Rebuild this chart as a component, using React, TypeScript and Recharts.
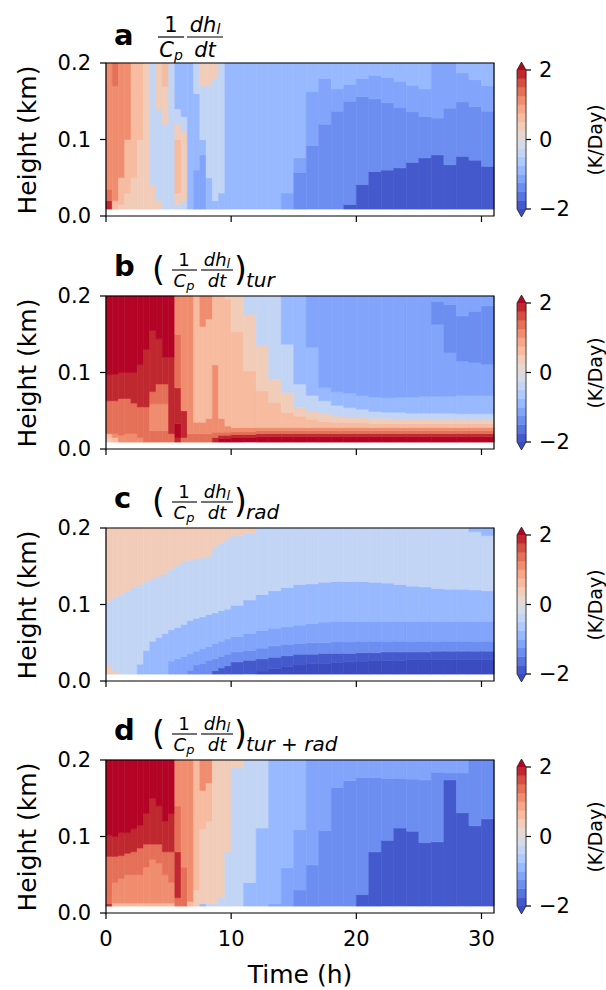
import React from 'react';
import { ComposedChart, XAxis, YAxis, ReferenceArea } from 'recharts';

// time column edges (h)
const TIME_EDGES = [0, 0.5, 1, 1.5, 2, 2.5, 3, 3.5, 4, 4.5, 5, 5.5, 6, 6.5, 7, 7.5, 8, 8.5, 9, 9.5, 10,
  11, 12, 13, 14, 15, 16, 17, 18, 19, 20, 21, 22, 23, 24, 25, 26, 27, 28, 29, 30, 31];
const H_BOTTOM = 0.009; // lowest model level (km)
const X_TICKS = [0, 10, 20, 30];
const Y_TICKS = [0, 0.1, 0.2];
const CB_TICKS = [-2, 0, 2];
const LEVELS = [-2, -1.75, -1.5, -1.25, -1, -0.75, -0.5, -0.25, 0, 0.25, 0.5, 0.75, 1, 1.25, 1.5, 1.75, 2];
// under, 16 bands, over (coolwarm)
const BAND_COLORS = ['#3b4cc0', '#445acc', '#5775e1', '#6c8ef1', '#82a5fb', '#98b9ff', '#aec9fd', '#c2d5f4', '#d5dbe6',
  '#e5d8d1', '#f1ccb9', '#f7bba0', '#f7a687', '#f18d6f', '#e57058', '#d55042', '#c0282f', '#b40426'];

// Each column: flat list of (value K/day, top height km) pairs, from the bottom up
const PANEL_A: number[][] = [
  [1.8, .02, 1.4, .035, 1.0, .2],
  [0.6, .02, 1.0, .17, 1.4, .2],
  [0.35, .015, 0.6, .05, 1.0, .2],
  [0.35, .03, 0.6, .1, 1.0, .2],
  [0.35, .05, 0.6, .2],
  [0.35, .1, 0.6, .2],
  [0.35, .2],
  [0.35, .04, -0.35, .2],
  [0.35, .02, -0.35, .14, 0.35, .2],
  [-0.35, .12, 0.35, .17, 0.6, .2],
  [-0.35, .2],
  [-0.35, .015, 0.35, .03, 0.6, .1, 0.35, .12, -0.35, .14, -0.85, .2],
  [-0.35, .02, 0.35, .11, -0.35, .13, -0.85, .2],
  [-0.85, .2],
  [-1.1, .06, -0.85, .16, -0.35, .2],
  [-1.1, .08, -0.85, .1, -0.35, .17, 0.35, .2],
  [-0.85, .05, -0.35, .17, 0.35, .2],
  [-0.85, .02, -0.35, .18, 0.35, .2],
  [-0.85, .03, -0.35, .2],
  [-0.85, .2],
  [-0.85, .2],
  [-0.85, .2],
  [-0.85, .2],
  [-0.85, .2],
  [-1.1, .03, -0.85, .2],
  [-1.4, .057, -1.1, .076, -0.85, .2],
  [-1.4, .092, -1.1, .163, -0.85, .2],
  [-1.4, .12, -1.1, .18, -0.85, .2],
  [-1.4, .137, -1.1, .166, -0.85, .2],
  [-1.8, .015, -1.4, .15, -1.1, .172, -0.85, .2],
  [-1.8, .041, -1.4, .156, -1.1, .18, -0.85, .2],
  [-1.8, .058, -1.4, .153, -1.1, .184, -0.85, .2],
  [-1.8, .06, -1.4, .148, -1.1, .181, -0.85, .2],
  [-1.8, .063, -1.4, .142, -1.1, .176, -0.85, .2],
  [-1.8, .07, -1.4, .136, -1.1, .171, -0.85, .2],
  [-1.8, .076, -1.4, .13, -1.1, .166, -0.85, .2],
  [-1.8, .08, -1.4, .128, -1.1, .2],
  [-1.8, .067, -1.4, .141, -1.1, .2],
  [-1.8, .078, -1.4, .149, -1.1, .187, -0.85, .2],
  [-1.8, .073, -1.4, .143, -1.1, .178, -0.85, .2],
  [-1.8, .065, -1.4, .137, -1.1, .17, -0.85, .2],
];

const PANEL_B: number[][] = [
  [0.35, .014, 0.6, .02, 1.4, .063, 1.8, .097, 2.2, .2],
  [0.6, .015, 1.0, .02, 1.4, .063, 1.8, .098, 2.2, .2],
  [1.0, .018, 1.4, .066, 1.8, .1, 2.2, .2],
  [1.0, .02, 1.4, .066, 1.8, .1, 2.2, .2],
  [1.0, .02, 1.4, .06, 1.8, .1, 2.2, .2],
  [1.0, .015, 1.4, .055, 1.8, .11, 2.2, .2],
  [1.4, .055, 1.8, .13, 2.2, .2],
  [1.4, .024, 1.0, .059, 1.4, .075, 1.8, .155, 2.2, .2],
  [1.4, .024, 1.0, .059, 1.4, .085, 1.8, .144, 2.2, .2],
  [1.4, .024, 1.0, .059, 1.4, .085, 1.8, .12, 2.2, .2],
  [1.4, .02, 1.8, .12, 2.2, .2],
  [1.8, .015, 2.2, .033, 1.8, .08, 1.4, .15, 1.0, .2],
  [1.4, .015, 1.8, .05, 1.0, .2],
  [1.4, .02, 1.0, .2],
  [1.4, .02, 1.0, .035, 0.6, .2],
  [1.4, .02, 1.0, .035, 0.6, .16, 1.0, .2],
  [1.4, .02, 1.0, .04, 0.6, .17, 1.0, .2],
  [1.8, .015, 1.4, .022, 1.0, .11, 0.6, .2],
  [2.2, .014, 1.8, .018, 1.4, .022, 1.0, .04, 0.6, .2],
  [2.2, .014, 1.8, .018, 1.4, .022, 1.0, .03, 0.6, .196, 0.35, .2],
  [2.2, .015, 1.8, .019, 1.4, .023, 1.0, .028, 0.6, .153, 0.35, .2],
  [2.2, .015, 1.8, .019, 1.4, .023, 1.0, .028, 0.6, .102, 0.35, .176, -0.35, .2],
  [2.2, .016, 1.8, .02, 1.4, .024, 1.0, .028, 0.6, .076, 0.35, .135, -0.35, .2],
  [2.2, .016, 1.8, .02, 1.4, .024, 1.0, .028, 0.6, .061, 0.35, .091, -0.35, .2],
  [2.2, .016, 1.8, .02, 1.4, .024, 1.0, .028, 0.6, .048, 0.35, .074, -0.35, .137, -0.85, .2],
  [2.2, .016, 1.8, .02, 1.4, .024, 1.0, .028, 0.6, .043, 0.35, .054, -0.35, .085, -0.85, .2],
  [2.2, .016, 1.8, .02, 1.4, .024, 1.0, .028, 0.6, .039, 0.35, .049, -0.35, .07, -0.85, .133, -1.1, .2],
  [2.2, .016, 1.8, .02, 1.4, .024, 1.0, .028, 0.6, .036, 0.35, .046, -0.35, .063, -0.85, .08, -1.1, .2],
  [2.2, .016, 1.8, .02, 1.4, .024, 1.0, .028, 0.6, .035, 0.35, .043, -0.35, .057, -0.85, .075, -1.1, .2],
  [2.2, .016, 1.8, .02, 1.4, .024, 1.0, .028, 0.6, .034, 0.35, .042, -0.35, .054, -0.85, .073, -1.1, .2],
  [2.2, .016, 1.8, .02, 1.4, .024, 1.0, .028, 0.6, .034, 0.35, .041, -0.35, .052, -0.85, .07, -1.1, .2],
  [2.2, .016, 1.8, .02, 1.4, .024, 1.0, .028, 0.6, .033, 0.35, .04, -0.35, .049, -0.85, .068, -1.1, .2],
  [2.2, .016, 1.8, .02, 1.4, .024, 1.0, .028, 0.6, .033, 0.35, .04, -0.35, .048, -0.85, .067, -1.1, .2],
  [2.2, .016, 1.8, .02, 1.4, .024, 1.0, .028, 0.6, .033, 0.35, .039, -0.35, .048, -0.85, .068, -1.1, .2],
  [2.2, .016, 1.8, .02, 1.4, .024, 1.0, .028, 0.6, .033, 0.35, .039, -0.35, .047, -0.85, .068, -1.1, .2],
  [2.2, .016, 1.8, .02, 1.4, .024, 1.0, .028, 0.6, .033, 0.35, .039, -0.35, .047, -0.85, .069, -1.1, .2],
  [2.2, .016, 1.8, .02, 1.4, .024, 1.0, .028, 0.6, .033, 0.35, .038, -0.35, .047, -0.85, .069, -1.1, .163, -1.4, .193, -1.1, .2],
  [2.2, .016, 1.8, .02, 1.4, .024, 1.0, .028, 0.6, .033, 0.35, .038, -0.35, .047, -0.85, .069, -1.1, .126, -1.4, .189, -1.1, .2],
  [2.2, .016, 1.8, .02, 1.4, .024, 1.0, .028, 0.6, .033, 0.35, .038, -0.35, .046, -0.85, .07, -1.1, .115, -1.4, .174, -1.1, .2],
  [2.2, .016, 1.8, .02, 1.4, .024, 1.0, .028, 0.6, .033, 0.35, .038, -0.35, .046, -0.85, .07, -1.1, .113, -1.4, .18, -1.1, .2],
  [2.2, .016, 1.8, .02, 1.4, .024, 1.0, .028, 0.6, .033, 0.35, .038, -0.35, .046, -0.85, .07, -1.1, .111, -1.4, .187, -1.1, .2],
];

const PANEL_C: number[][] = [
  [0.35, .02, -0.35, .104, 0.35, .2],
  [0.35, .013, -0.35, .109, 0.35, .2],
  [-0.35, .113, 0.35, .2],
  [-0.35, .117, 0.35, .2],
  [-0.35, .122, 0.35, .2],
  [-0.85, .022, -0.35, .126, 0.35, .2],
  [-0.85, .04, -0.35, .13, 0.35, .2],
  [-0.85, .052, -0.35, .134, 0.35, .2],
  [-0.85, .057, -0.35, .137, 0.35, .2],
  [-0.85, .062, -0.35, .14, 0.35, .2],
  [-1.1, .026, -0.85, .067, -0.35, .146, 0.35, .2],
  [-1.1, .029, -0.85, .07, -0.35, .151, 0.35, .2],
  [-1.1, .032, -0.85, .074, -0.35, .157, 0.35, .2],
  [-1.4, .014, -1.1, .036, -0.85, .079, -0.35, .158, 0.35, .2],
  [-1.4, .021, -1.1, .039, -0.85, .082, -0.35, .16, 0.35, .2],
  [-1.4, .023, -1.1, .042, -0.85, .084, -0.35, .161, 0.35, .2],
  [-1.4, .027, -1.1, .045, -0.85, .087, -0.35, .163, 0.35, .2],
  [-1.8, .0135, -1.4, .029, -1.1, .049, -0.85, .089, -0.35, .174, 0.35, .2],
  [-1.8, .017, -1.4, .032, -1.1, .052, -0.85, .092, -0.35, .18, 0.35, .2],
  [-1.8, .02, -1.4, .035, -1.1, .055, -0.85, .094, -0.35, .186, 0.35, .2],
  [-1.8, .025, -1.4, .038, -1.1, .058, -0.85, .099, -0.35, .19, 0.35, .2],
  [-1.8, .027, -1.4, .04, -1.1, .062, -0.85, .106, -0.35, .193, 0.35, .2],
  [-2.2, .013, -1.8, .029, -1.4, .043, -1.1, .066, -0.85, .113, -0.35, .2],
  [-2.2, .016, -1.8, .031, -1.4, .046, -1.1, .069, -0.85, .118, -0.35, .2],
  [-2.2, .019, -1.8, .033, -1.4, .048, -1.1, .071, -0.85, .122, -0.35, .2],
  [-2.2, .022, -1.8, .035, -1.4, .049, -1.1, .073, -0.85, .126, -0.35, .2],
  [-2.2, .023, -1.8, .035, -1.4, .05, -1.1, .075, -0.85, .127, -0.35, .2],
  [-2.2, .023, -1.8, .036, -1.4, .05, -1.1, .077, -0.85, .129, -0.35, .2],
  [-2.2, .024, -1.8, .036, -1.4, .051, -1.1, .078, -0.85, .13, -0.35, .2],
  [-2.2, .025, -1.8, .036, -1.4, .051, -1.1, .078, -0.85, .13, -0.35, .2],
  [-2.2, .026, -1.8, .037, -1.4, .052, -1.1, .078, -0.85, .13, -0.35, .2],
  [-2.2, .027, -1.8, .037, -1.4, .052, -1.1, .078, -0.85, .129, -0.35, .2],
  [-2.2, .027, -1.8, .038, -1.4, .052, -1.1, .078, -0.85, .128, -0.35, .2],
  [-2.2, .027, -1.8, .038, -1.4, .052, -1.1, .078, -0.85, .126, -0.35, .2],
  [-2.2, .028, -1.8, .038, -1.4, .052, -1.1, .078, -0.85, .124, -0.35, .2],
  [-2.2, .028, -1.8, .038, -1.4, .052, -1.1, .078, -0.85, .123, -0.35, .2],
  [-2.2, .028, -1.8, .039, -1.4, .052, -1.1, .078, -0.85, .121, -0.35, .2],
  [-2.2, .028, -1.8, .039, -1.4, .052, -1.1, .078, -0.85, .12, -0.35, .2],
  [-2.2, .028, -1.8, .039, -1.4, .052, -1.1, .078, -0.85, .12, -0.35, .2],
  [-2.2, .028, -1.8, .039, -1.4, .052, -1.1, .078, -0.85, .119, -0.35, .195, -0.85, .2],
  [-2.2, .028, -1.8, .039, -1.4, .052, -1.1, .078, -0.85, .118, -0.35, .19, -0.85, .2],
];

const PANEL_D: number[][] = [
  [1.8, .012, 1.4, .074, 1.8, .102, 2.2, .2],
  [0.6, .013, 1.0, .04, 1.4, .074, 1.8, .1, 2.2, .2],
  [0.6, .013, 1.0, .045, 1.4, .075, 1.8, .105, 2.2, .2],
  [0.6, .013, 1.0, .05, 1.4, .078, 1.8, .105, 2.2, .2],
  [0.6, .013, 1.0, .05, 1.4, .08, 1.8, .11, 2.2, .2],
  [0.6, .013, 1.0, .05, 1.4, .085, 1.8, .115, 2.2, .2],
  [0.6, .013, 1.0, .06, 1.4, .09, 1.8, .13, 2.2, .2],
  [0.6, .013, 1.0, .07, 1.4, .09, 1.8, .15, 2.2, .2],
  [0.6, .013, 1.0, .065, 1.4, .09, 1.8, .14, 2.2, .2],
  [0.6, .013, 1.0, .05, 1.4, .08, 1.8, .12, 2.2, .2],
  [0.6, .013, 1.0, .04, 1.4, .08, 1.8, .13, 2.2, .2],
  [1.4, .02, 1.8, .08, 1.4, .14, 1.0, .2],
  [1.4, .06, 1.0, .2],
  [0.6, .015, 1.0, .2],
  [0.35, .03, 0.6, .2],
  [-0.85, .012, 0.35, .11, 0.6, .16, 1.0, .2],
  [-0.35, .012, 0.35, .12, 0.6, .17, 1.0, .2],
  [-0.35, .012, 0.35, .2],
  [-0.35, .02, 0.35, .2],
  [-0.35, .08, 0.35, .2],
  [-0.35, .19, 0.35, .2],
  [-0.85, .04, -0.35, .2],
  [-0.85, .111, -0.35, .2],
  [-1.1, .012, -0.85, .2],
  [-1.1, .059, -0.85, .2],
  [-1.4, .03, -1.1, .109, -0.85, .2],
  [-1.4, .063, -1.1, .2],
  [-1.4, .108, -1.1, .2],
  [-1.4, .164, -1.1, .2],
  [-1.4, .173, -1.1, .2],
  [-1.8, .024, -1.4, .177, -1.1, .2],
  [-1.8, .08, -1.4, .177, -1.1, .2],
  [-1.8, .095, -1.4, .176, -1.1, .2],
  [-1.8, .111, -1.4, .176, -1.1, .2],
  [-1.8, .107, -1.4, .175, -1.1, .2],
  [-1.8, .092, -1.4, .174, -1.1, .2],
  [-1.8, .093, -1.4, .184, -1.1, .2],
  [-1.8, .174, -1.4, .183, -1.1, .2],
  [-1.8, .131, -1.4, .183, -1.1, .2],
  [-1.8, .114, -1.4, .2],
  [-1.8, .123, -1.4, .2],
];

const PANEL_LETTERS = ['a', 'b', 'c', 'd'];
const PANEL_SUBS = ['', 'tur', 'rad', 'tur + rad'];
const PANELS = [PANEL_A, PANEL_B, PANEL_C, PANEL_D];
const PANEL_TOPS = [63, 296, 528, 760];

const FONT = 'DejaVu Sans, Liberation Sans, sans-serif';
const PLOT_H = 153;
const DUMMY = [{ t: 0, h: 0 }, { t: 31, h: 0.2 }];

function colorOf(v: number): string {
  if (v < LEVELS[0]) return BAND_COLORS[0];
  if (v > LEVELS[LEVELS.length - 1]) return BAND_COLORS[BAND_COLORS.length - 1];
  for (let i = 0; i < LEVELS.length - 1; i++) {
    if (v >= LEVELS[i] && v < LEVELS[i + 1]) return BAND_COLORS[i + 1];
  }
  return BAND_COLORS[LEVELS.length - 1];
}

const fmtMinus = (v: number) => (v < 0 ? '\u2212' + Math.abs(v) : String(v));

function Panel({ cols, top, showX }: { cols: number[][]; top: number; showX: boolean }) {
  const areas: React.ReactNode[] = [];
  cols.forEach((col, i) => {
    let y0 = H_BOTTOM;
    for (let k = 0; k < col.length; k += 2) {
      const c = colorOf(col[k]);
      const y1 = col[k + 1];
      areas.push(
        <ReferenceArea key={`c${i}-${k}`} x1={TIME_EDGES[i]} x2={TIME_EDGES[i + 1]} y1={y0} y2={y1}
          fill={c} fillOpacity={1} stroke={c} strokeWidth={0.6} />
      );
      y0 = y1;
    }
  });
  return (
    <div style={{ position: 'absolute', left: 0, top: top - 20 }}>
      <ComposedChart width={606} height={20 + PLOT_H + 45} data={DUMMY}
        margin={{ top: 20, right: 112, bottom: 0, left: 0 }}>
        <XAxis dataKey="t" type="number" domain={[0, 31]} ticks={X_TICKS} allowDataOverflow
          height={45} axisLine={false} tickSize={6} tickMargin={12}
          tickLine={{ stroke: '#000', strokeWidth: 1.2 }}
          tickFormatter={(v: number) => (showX ? String(v) : '')}
          tick={{ fill: '#000', fontSize: 21, fontFamily: FONT }} />
        <YAxis dataKey="h" type="number" domain={[0, 0.2]} ticks={Y_TICKS} allowDataOverflow
          width={106} axisLine={false} tickSize={6} tickMargin={9}
          tickLine={{ stroke: '#000', strokeWidth: 1.2 }}
          tickFormatter={(v: number) => v.toFixed(1)}
          tick={{ fill: '#000', fontSize: 21, fontFamily: FONT }} />
        {areas}
        <ReferenceArea x1={0} x2={31} y1={0} y2={0.2} fill="none" fillOpacity={0}
          stroke="#000" strokeWidth={1.2} />
      </ComposedChart>
    </div>
  );
}

function ColorBar({ top }: { top: number }) {
  const bands = [];
  for (let i = 0; i < LEVELS.length - 1; i++) {
    bands.push(
      <ReferenceArea key={`b${i}`} x1={0} x2={1} y1={LEVELS[i]} y2={LEVELS[i + 1]}
        fill={BAND_COLORS[i + 1]} fillOpacity={1} stroke={BAND_COLORS[i + 1]} strokeWidth={0.5} />
    );
  }
  return (
    <div style={{ position: 'absolute', left: 517, top: top + 7 - 15 }}>
      <ComposedChart width={9 + 60} height={139 + 30} data={[{ x: 0, y: -2 }, { x: 1, y: 2 }]}
        margin={{ top: 15, right: 0, bottom: 15, left: 0 }}>
        <XAxis dataKey="x" type="number" domain={[0, 1]} hide />
        <YAxis dataKey="y" type="number" orientation="right" domain={[-2, 2]} ticks={CB_TICKS}
          width={60} axisLine={false} tickSize={5} tickMargin={8}
          tickLine={{ stroke: '#000', strokeWidth: 1.2 }} tickFormatter={fmtMinus}
          tick={{ fill: '#000', fontSize: 21, fontFamily: FONT }} />
        {bands}
      </ComposedChart>
    </div>
  );
}

function Overlay() {
  return (
    <svg width={606} height={990} style={{ position: 'absolute', left: 0, top: 0, pointerEvents: 'none' }}
      fontFamily={FONT}>
      {PANEL_TOPS.map((T, p) => {
        const x0 = 517, x1 = 526, xm = 521.5;
        return (
          <g key={`o${p}`}>
            <polygon points={`${x0},${T + 7} ${xm},${T - 1} ${x1},${T + 7}`} fill={BAND_COLORS[BAND_COLORS.length - 1]} />
            <polygon points={`${x0},${T + 146} ${xm},${T + 154} ${x1},${T + 146}`} fill={BAND_COLORS[0]} />
            <polygon points={`${x0},${T + 7} ${xm},${T - 1} ${x1},${T + 7} ${x1},${T + 146} ${xm},${T + 154} ${x0},${T + 146}`}
              fill="none" stroke="#222" strokeWidth={0.8} />
            <text transform={`translate(595, ${T + 77}) rotate(-90)`} textAnchor="middle"
              dominantBaseline="central" fontSize={19}>(K/Day)</text>
            <text transform={`translate(27, ${T + 77}) rotate(-90)`} textAnchor="middle"
              dominantBaseline="central" fontSize={25}>Height (km)</text>
            <text x={114} y={T - (p === 0 ? 18 : 20)} fontSize={29} fontWeight="bold">{PANEL_LETTERS[p]}</text>
            {p === 0 ? (
              <g>
                <text x={171} y={T - 31} fontSize={21} textAnchor="middle">1</text>
                <line x1={158} x2={184} y1={T - 26} y2={T - 26} stroke="#000" strokeWidth={1.2} />
                <text x={171} y={T - 6} fontSize={21} textAnchor="middle" fontStyle="italic">C<tspan fontSize={14} dy={3}>p</tspan></text>
                <text x={205} y={T - 31} fontSize={21} textAnchor="middle" fontStyle="italic">dh<tspan fontSize={14} dy={2}>l</tspan></text>
                <line x1={187} x2={223} y1={T - 26} y2={T - 26} stroke="#000" strokeWidth={1.2} />
                <text x={205} y={T - 6} fontSize={21} textAnchor="middle" fontStyle="italic">dt</text>
              </g>
            ) : (
              <g>
                <text x={152} y={T - 15} fontSize={33}>(</text>
                <text x={184} y={T - 30} fontSize={18} textAnchor="middle">1</text>
                <line x1={172} x2={197} y1={T - 26} y2={T - 26} stroke="#000" strokeWidth={1.1} />
                <text x={184} y={T - 9} fontSize={18} textAnchor="middle" fontStyle="italic">C<tspan fontSize={13} dy={3}>p</tspan></text>
                <text x={217} y={T - 30} fontSize={18} textAnchor="middle" fontStyle="italic">dh<tspan fontSize={13} dy={2}>l</tspan></text>
                <line x1={201} x2={233} y1={T - 26} y2={T - 26} stroke="#000" strokeWidth={1.1} />
                <text x={217} y={T - 9} fontSize={18} textAnchor="middle" fontStyle="italic">dt</text>
                <text x={234} y={T - 15} fontSize={33}>)</text>
                <text x={246} y={T - 9} fontSize={20} fontStyle="italic">{PANEL_SUBS[p]}</text>
              </g>
            )}
          </g>
        );
      })}
      <text x={300} y={983} textAnchor="middle" fontSize={25}>Time (h)</text>
    </svg>
  );
}

export default function App() {
  return (
    <div style={{ position: 'absolute', left: 0, top: 0, width: 606, height: 990, background: '#fff', overflow: 'hidden', fontFamily: FONT }}>
      {PANELS.map((cols, p) => (
        <Panel key={`p${p}`} cols={cols} top={PANEL_TOPS[p]} showX={p === 3} />
      ))}
      {PANEL_TOPS.map((T, p) => <ColorBar key={`cb${p}`} top={T} />)}
      <Overlay />
    </div>
  );
}
